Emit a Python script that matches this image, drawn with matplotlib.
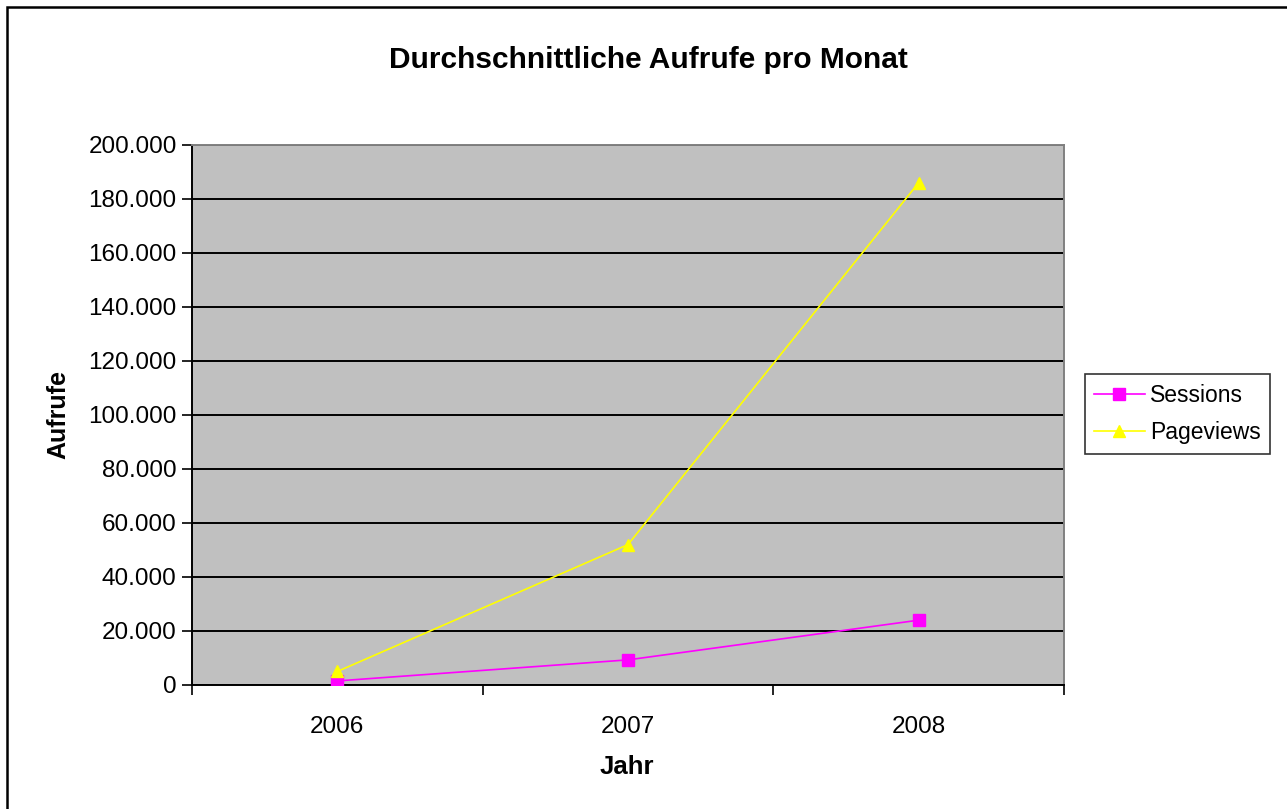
import matplotlib
matplotlib.use("Agg")
import matplotlib.pyplot as plt
from matplotlib.patches import Rectangle
from matplotlib.ticker import FuncFormatter, FixedLocator

years = ["2006", "2007", "2008"]
sessions = [1500, 9300, 24000]
pageviews = [5000, 52000, 186000]

plt.rcParams["font.family"] = ["Liberation Sans", "DejaVu Sans"]

fig = plt.figure(figsize=(12.87, 8.09), dpi=100)
ax = fig.add_axes([0.1492, 0.1533, 0.6775, 0.6675])

# outer chart border (cut off on right/bottom like the screenshot)
fig.patches.append(Rectangle((7 / 1287, -0.05), 1.2, 1 - 7 / 809 + 0.05,
                             transform=fig.transFigure, fill=False,
                             edgecolor="black", linewidth=1.8))

x = list(range(len(years)))
ax.set_facecolor("#C0C0C0")
ax.plot(x, sessions, color="#FF00FF", marker="s", markersize=8, linewidth=1.2, label="Sessions", zorder=3)
ax.plot(x, pageviews, color="#FFFF00", marker="^", markersize=9, linewidth=1.2, label="Pageviews", zorder=3)

ax.set_xlim(-0.5, 2.5)
ax.set_ylim(0, 200000)
ax.set_yticks(range(0, 200001, 20000))
ax.yaxis.set_major_formatter(FuncFormatter(lambda v, p: f"{int(v):,}".replace(",", ".")))
ax.yaxis.grid(True, color="black", linewidth=1.4)
ax.set_axisbelow(True)

ax.xaxis.set_major_locator(FixedLocator([-0.5, 0.5, 1.5, 2.5]))
ax.xaxis.set_major_formatter(FuncFormatter(lambda v, p: ""))
ax.xaxis.set_minor_locator(FixedLocator(x))
ax.set_xticklabels(years, minor=True)
ax.tick_params(axis="x", which="minor", length=0, pad=22, labelsize=17.5)
ax.tick_params(axis="x", which="major", length=7, width=1.2, direction="out")
ax.tick_params(axis="y", length=7, width=1.2, direction="out", labelsize=17.5, pad=4)

for s in ["left", "bottom"]:
    ax.spines[s].set_color("black")
    ax.spines[s].set_linewidth(1.4)
for s in ["top", "right"]:
    ax.spines[s].set_color("#808080")
    ax.spines[s].set_linewidth(1.4)

fig.text(648 / 1287, 1 - 60 / 809, "Durchschnittliche Aufrufe pro Monat", ha="center", va="center",
         fontsize=21.5, fontweight="bold")
fig.text(58 / 1287, 1 - 415 / 809, "Aufrufe", rotation=90, ha="center", va="center",
         fontsize=18, fontweight="bold")
fig.text(627 / 1287, 1 - 767 / 809, "Jahr", ha="center", va="center", fontsize=18.5, fontweight="bold")

leg = ax.legend(loc="center left", bbox_to_anchor=(1085 / 1287, 1 - 414 / 809),
                bbox_transform=fig.transFigure, frameon=True, fancybox=False,
                edgecolor="black", fontsize=16.5, borderaxespad=0, handlelength=2.2,
                borderpad=0.4, labelspacing=0.65, handletextpad=0.25)
leg.get_frame().set_linewidth(1.2)

fig.savefig("out.png", dpi=100)
